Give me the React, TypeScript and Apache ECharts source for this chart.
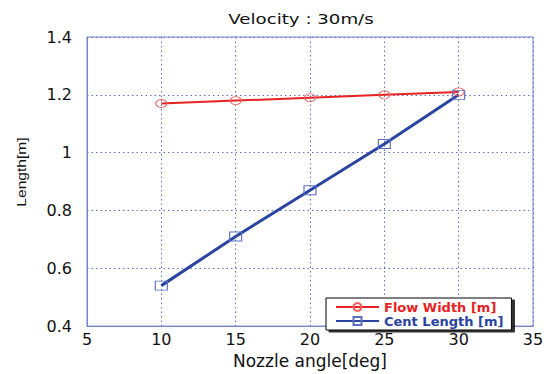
import { useEffect, useRef } from "react";
import * as echarts from "echarts";

const angles = [10, 15, 20, 25, 30];
const flowWidth = [1.17, 1.18, 1.19, 1.2, 1.21];
const centLength = [0.54, 0.71, 0.87, 1.03, 1.2];
const seriesNames = ["Flow Width [m]", "Cent Length [m]"];
const titleText = "Velocity : 30m/s";
const xName = "Nozzle angle[deg]";
const yName = "Length[m]";

export default function App() {
  const ref = useRef<HTMLDivElement>(null);
  useEffect(() => {
    const chart = echarts.init(ref.current!, null, { renderer: "svg" });
    const frame = "#7383cc";
    const gridLine = { show: true, lineStyle: { color: "#6070c8", type: [1.5, 3], width: 1 } };
    const tickFont = { color: "#111", fontFamily: "DejaVu Sans", fontSize: 16 };
    chart.setOption({
      animation: false,
      backgroundColor: "#ffffff",
      grid: { left: 87, right: 21, top: 37, bottom: 41, show: true, borderColor: frame, borderWidth: 1, backgroundColor: "transparent" },
      graphic: [
        {
          type: "text", x: 301, y: 19, scaleX: 1.3,
          style: { text: titleText, fill: "#111", font: "14px 'DejaVu Sans'", textAlign: "center", textVerticalAlign: "middle" },
        },
        {
          type: "text", x: 22, y: 172, rotation: Math.PI / 2, scaleX: 1.3,
          style: { text: yName, fill: "#111", font: "12px 'Liberation Sans'", textAlign: "center", textVerticalAlign: "middle" },
        },
      ],
      legend: {
        show: true,
        orient: "vertical",
        left: 326,
        top: 298,
        padding: [2, 8, 2, 9],
        itemGap: 0,
        itemWidth: 43,
        itemHeight: 10,
        backgroundColor: "#ffffff",
        borderColor: "#000",
        borderWidth: 1,
        borderRadius: 0,
        shadowColor: "rgba(0,0,0,0.8)",
        shadowBlur: 0,
        shadowOffsetX: 3,
        shadowOffsetY: 2,
        textStyle: { fontFamily: "DejaVu Sans", fontWeight: "bold", fontSize: 13, lineHeight: 14 },
        data: [
          { name: seriesNames[0], textStyle: { color: "#e62222" } },
          { name: seriesNames[1], textStyle: { color: "#2a44a0" } },
        ],
      },
      xAxis: {
        type: "value", min: 5, max: 35, interval: 5,
        name: xName, nameLocation: "middle", nameGap: 24,
        nameTextStyle: { color: "#111", fontFamily: "DejaVu Sans", fontSize: 17 },
        axisLine: { show: true, lineStyle: { color: frame } },
        axisTick: { show: false },
        axisLabel: { ...tickFont, margin: 5 },
        splitLine: gridLine,
      },
      yAxis: {
        type: "value", min: 0.4, max: 1.4, interval: 0.2,
        axisLine: { show: true, lineStyle: { color: frame } },
        axisTick: { show: false },
        axisLabel: { ...tickFont, margin: 15 },
        splitLine: gridLine,
      },
      series: [
        {
          name: seriesNames[0], type: "line", color: "#e62222",
          data: angles.map((a, i) => [a, flowWidth[i]]),
          symbol: "circle", symbolSize: [11, 8],
          lineStyle: { color: "#e62222", width: 2 },
          itemStyle: { color: "rgba(255,255,255,0)", borderColor: "#f06262", borderWidth: 1 },
        },
        {
          name: seriesNames[1], type: "line", color: "#2a44a0",
          data: angles.map((a, i) => [a, centLength[i]]),
          symbol: "rect", symbolSize: [12, 9],
          lineStyle: { color: "#2a44a0", width: 3 },
          itemStyle: { color: "rgba(255,255,255,0)", borderColor: "#5a6ec0", borderWidth: 1 },
        },
      ],
    });
    return () => chart.dispose();
  }, []);
  return <div ref={ref} style={{ position: "fixed", left: 0, top: 0, width: 554, height: 374 }} />;
}
